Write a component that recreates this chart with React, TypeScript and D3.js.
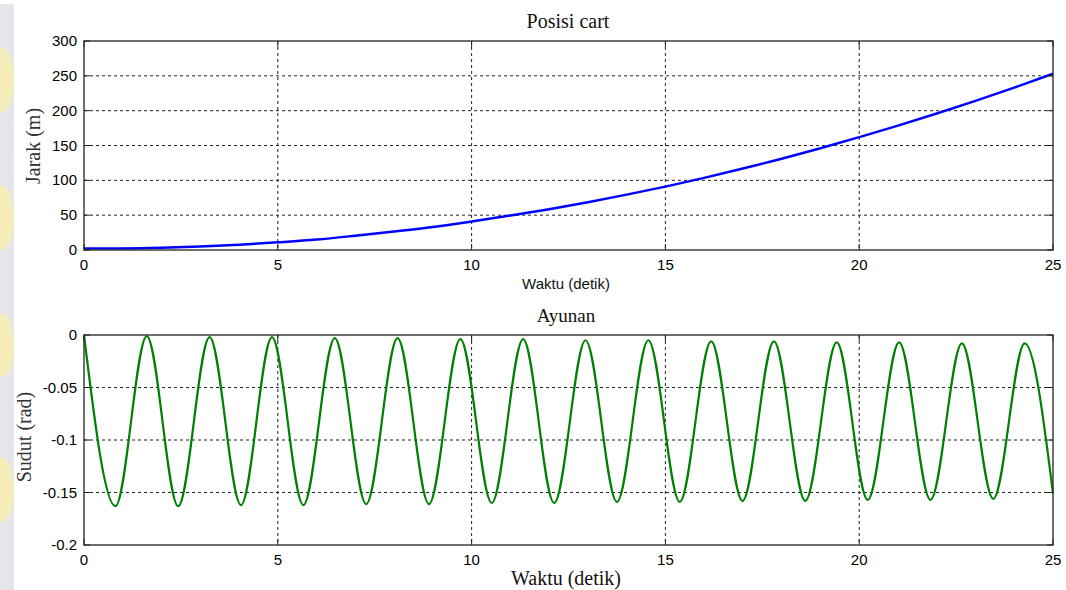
import React from 'react';
import * as d3 from 'd3';

// cart position, read at whole seconds
const cartTime = [0, 1, 2, 3, 4, 5, 6, 7, 8, 9, 10, 11, 12, 13, 14, 15, 16, 17, 18, 19, 20, 21, 22, 23, 24, 25];
const cartPos = [2, 2.2, 3.2, 5, 7.5, 11, 15, 20.5, 26.5, 33, 41, 49.5, 58.5, 68.5, 79.5, 91, 103.5, 117, 131, 146, 162, 178.5, 196, 214, 233, 253];

// pendulum angle, read at its peaks and troughs
const swingTime = [0, 0.81, 1.62, 2.43, 3.24, 4.05, 4.85, 5.66, 6.47, 7.28, 8.09, 8.9, 9.71, 10.52, 11.33, 12.13, 12.94, 13.75, 14.56, 15.37, 16.18, 16.99, 17.8, 18.61, 19.42, 20.22, 21.03, 21.84, 22.65, 23.46, 24.27, 25];
const swingAngle = [0, -0.163, -0.001, -0.163, -0.002, -0.162, -0.002, -0.162, -0.003, -0.161, -0.003, -0.161, -0.004, -0.16, -0.004, -0.16, -0.005, -0.159, -0.005, -0.159, -0.006, -0.158, -0.006, -0.158, -0.007, -0.157, -0.007, -0.157, -0.008, -0.156, -0.008, -0.151];

const xTicks = [0, 5, 10, 15, 20, 25];
const cartTicks = [0, 50, 100, 150, 200, 250, 300];
const swingTicks = [0, -0.05, -0.1, -0.15, -0.2];

const serif = '"Liberation Serif", "Times New Roman", serif';
const sans = '"Liberation Sans", Arial, sans-serif';

const width = 1066;
const height = 590;
const left = 84;
const right = 1053;

const Panel = ({ top, bottom, yDomain, yTicks, fmt, xs, ys, color, lw }) => {
  const x = d3.scaleLinear().domain([0, 25]).range([left, right]);
  const y = d3.scaleLinear().domain(yDomain).range([bottom, top]);
  const line = d3
    .line()
    .x((d, i) => x(xs[i]))
    .y((d) => y(d))
    .curve(d3.curveMonotoneX);
  const lo = yDomain[0];
  const hi = yDomain[1];
  return (
    <g>
      {/* grid */}
      {xTicks.filter((t) => t > 0 && t < 25).map((t) => (
        <line key={'gx' + t} x1={x(t)} x2={x(t)} y1={top} y2={bottom} stroke="#222" strokeDasharray="3,3" />
      ))}
      {yTicks.filter((t) => t !== lo && t !== hi).map((t) => (
        <line key={'gy' + t} x1={left} x2={right} y1={y(t)} y2={y(t)} stroke="#222" strokeDasharray="3,3" />
      ))}
      {/* data */}
      <path d={line(ys)} fill="none" stroke={color} strokeWidth={lw} strokeLinejoin="round" />
      {/* box */}
      <rect x={left} y={top} width={right - left} height={bottom - top} fill="none" stroke="#333" strokeWidth={1.4} />
      {/* ticks */}
      {xTicks.map((t) => (
        <g key={'tx' + t}>
          <line x1={x(t)} x2={x(t)} y1={bottom} y2={bottom - 6} stroke="#222" />
          <line x1={x(t)} x2={x(t)} y1={top} y2={top + 6} stroke="#222" />
          <text x={x(t)} y={bottom + 20} textAnchor="middle" fontFamily={sans} fontSize={15} fill="#000">
            {t}
          </text>
        </g>
      ))}
      {yTicks.map((t) => (
        <g key={'ty' + t}>
          <line x1={left} x2={left + 6} y1={y(t)} y2={y(t)} stroke="#222" />
          <line x1={right} x2={right - 6} y1={y(t)} y2={y(t)} stroke="#222" />
          <text x={77} y={y(t) + 5} textAnchor="end" fontFamily={sans} fontSize={15} fill="#000">
            {fmt(t)}
          </text>
        </g>
      ))}
    </g>
  );
};

// faint university-logo watermark along the left edge
const watermarkY = [80, 218, 345, 490];

export default function App() {
  return (
    <svg width={width} height={height} style={{ position: 'absolute', left: 0, top: 0, background: '#fff' }}>
      <rect x={0} y={4} width={14} height={height - 4} fill="#d3d5de" opacity={0.6} />
      {watermarkY.map((cy) => (
        <ellipse key={cy} cx={2} cy={cy} rx={12} ry={32} fill="#f8eeb0" opacity={0.85} />
      ))}

      <text x={568} y={28} textAnchor="middle" fontFamily={serif} fontSize={20} fill="#111">
        Posisi cart
      </text>
      <Panel
        top={41}
        bottom={250}
        yDomain={[0, 300]}
        yTicks={cartTicks}
        fmt={(t) => String(t)}
        xs={cartTime}
        ys={cartPos}
        color="#0000ff"
        lw={2.5}
      />
      <text x={566} y={289} textAnchor="middle" fontFamily={sans} fontSize={15} fill="#111">
        Waktu (detik)
      </text>
      <text transform="translate(40,146) rotate(-90)" textAnchor="middle" fontFamily={serif} fontSize={20} fill="#333">
        Jarak (m)
      </text>

      <text x={566} y={322} textAnchor="middle" fontFamily={serif} fontSize={19} fill="#111">
        Ayunan
      </text>
      <Panel
        top={335}
        bottom={545}
        yDomain={[-0.2, 0]}
        yTicks={swingTicks}
        fmt={(t) => (t === 0 ? '0' : String(t))}
        xs={swingTime}
        ys={swingAngle}
        color="#008000"
        lw={2.2}
      />
      <text x={566} y={585} textAnchor="middle" fontFamily={serif} fontSize={20} fill="#111">
        Waktu (detik)
      </text>
      <text transform="translate(31,437) rotate(-90)" textAnchor="middle" fontFamily={serif} fontSize={20} fill="#333">
        Sudut (rad)
      </text>
    </svg>
  );
}
